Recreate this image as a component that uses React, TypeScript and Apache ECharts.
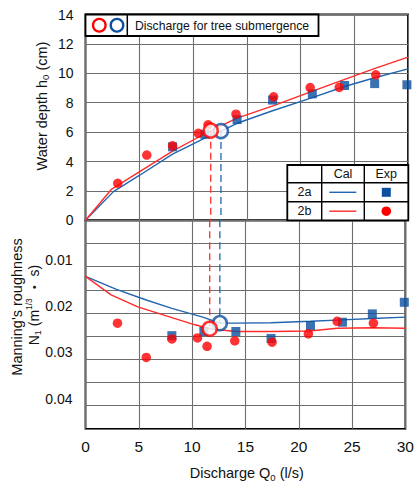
import React, { useEffect, useRef } from "react";
import * as echarts from "echarts";

// ---- Data ----
// Calculated (Cal) water depth h0 (cm) vs discharge Q0 (l/s)
const calQ2aTop = [0, 2.6, 5, 8.1, 11, 12.6, 14.1, 17.4, 21.1, 24.1, 26.9, 30];
const calH2a = [0, 1.95, 3.05, 4.5, 5.55, 6.07, 6.6, 7.45, 8.35, 9.1, 9.7, 10.3];
const calQ2bTop = [0, 2.4, 5, 8.1, 10.5, 11.65, 14.1, 17.5, 21, 23.6, 27, 30];
const calH2b = [0, 2.1, 3.3, 4.7, 5.65, 6.1, 6.95, 7.8, 8.75, 9.45, 10.35, 11.1];

// Calculated Manning's roughness N1
const calQ2aBot = [0, 2.9, 5.7, 8.1, 11, 12.6, 14.1, 17.4, 21.1, 24.1, 26.9, 30];
const calN2a = [0.0121, 0.0149, 0.0172, 0.019, 0.0209, 0.0222, 0.0222, 0.0221, 0.0218, 0.0215, 0.0212, 0.0209];
const calQ2bBot = [0, 2.4, 4.9, 8.1, 10.2, 11.65, 14.1, 17.5, 21, 23.6, 27, 30];
const calN2b = [0.0121, 0.0161, 0.0187, 0.021, 0.0225, 0.0234, 0.024, 0.024, 0.0239, 0.0233, 0.0232, 0.0233];

// Experimental (Exp)
const expQ2a = [8.1, 11.1, 14.1, 17.4, 21.1, 24.1, 26.9, 29.9];
const expH2a = [5.0, 5.85, 6.85, 8.18, 8.6, 9.17, 9.3, 9.22];
const expN2a = [0.0249, 0.024, 0.024, 0.0255, 0.0227, 0.022, 0.0202, 0.0177];
const expQ2b = [3.0, 5.7, 8.1, 10.5, 11.4, 14.0, 17.5, 20.9, 23.6, 27.0];
const expH2b = [2.52, 4.44, 5.07, 5.92, 6.5, 7.22, 8.4, 9.03, 9.05, 9.9];
const expN2b = [0.0222, 0.0296, 0.0256, 0.0254, 0.0272, 0.026, 0.0263, 0.0245, 0.0218, 0.0222];

// Discharge for tree submergence [2a, 2b]
const subQ = [12.6, 11.65];
const subH = [6.07, 6.1];
const subN = [0.0222, 0.0234];

// Axis ticks
const xTicks = [0, 5, 10, 15, 20, 25, 30];
const hTicks = [0, 2, 4, 6, 8, 10, 12, 14];
const nTickLabels = ["0.01", "0.02", "0.03", "0.04"];

const BLUE = "#0b4f9e";
const BLUE_LINE = "#2365b0";
const RED = "#ff0000";
const RED_LINE = "#ff2b2b";
const FONT = "'Liberation Sans', Arial, 'Noto Sans CJK JP', sans-serif";
const TXT = "#111";

const zip = (a: number[], b: number[]) => a.map((v, i) => [v, b[i]]);

export default function App() {
  const ref = useRef<HTMLDivElement>(null);
  useEffect(() => {
    const chart = echarts.init(ref.current!, null, { renderer: "svg" });
    const gridCommon = {
      left: 85.5,
      width: 322.5,
      show: true,
      borderColor: "#000",
      borderWidth: 1.8,
      backgroundColor: "transparent",
    };
    const split = { show: true, lineStyle: { color: "#6e6e6e", width: 1.1 } };
    const dash = (color: string) => ({ color, width: 1.3, type: [7, 4] as any });
    const option: any = {
      animation: false,
      backgroundColor: "#fff",
      grid: [
        { ...gridCommon, top: 14.5, height: 205.8 },
        { ...gridCommon, top: 220.3, height: 208.5 },
      ],
      xAxis: [
        {
          gridIndex: 0, type: "value", min: xTicks[0], max: xTicks[xTicks.length - 1], interval: 5,
          axisLabel: { show: false }, axisTick: { show: false }, axisLine: { show: false }, splitLine: split,
        },
        {
          gridIndex: 1, type: "value", min: xTicks[0], max: xTicks[xTicks.length - 1], interval: 5,
          axisLabel: { fontSize: 15.5, color: TXT, margin: 10, fontFamily: FONT },
          axisTick: { show: false }, axisLine: { show: false }, splitLine: split,
        },
      ],
      yAxis: [
        {
          gridIndex: 0, type: "value", min: hTicks[0], max: hTicks[hTicks.length - 1], interval: 2,
          axisLabel: { fontSize: 14, color: TXT, margin: 12, fontFamily: FONT },
          axisTick: { show: false }, axisLine: { show: false }, splitLine: split,
        },
        {
          gridIndex: 1, type: "value", min: 0, max: 0.045, interval: 0.005, inverse: true,
          axisLabel: {
            fontSize: 14, color: TXT, margin: 13, fontFamily: FONT, verticalAlign: "bottom",
            formatter: (v: number) => {
              const k = Math.round(v * 1000);
              if (k > 0 && k % 10 === 0) return nTickLabels[k / 10 - 1] ?? "";
              return "";
            },
          },
          axisTick: { show: false }, axisLine: { show: false }, splitLine: split,
        },
      ],
      series: [
        // dashed verticals
        { type: "line", xAxisIndex: 0, yAxisIndex: 0, data: [[subQ[1], subH[1]], [subQ[1], 0]], symbol: "none", lineStyle: dash(RED_LINE), z: 1 },
        { type: "line", xAxisIndex: 1, yAxisIndex: 1, data: [[subQ[1], 0], [subQ[1], subN[1]]], symbol: "none", lineStyle: dash(RED_LINE), z: 1 },
        { type: "line", xAxisIndex: 0, yAxisIndex: 0, data: [[subQ[0], subH[0]], [subQ[0], 0]], symbol: "none", lineStyle: dash(BLUE_LINE), z: 1 },
        { type: "line", xAxisIndex: 1, yAxisIndex: 1, data: [[subQ[0], 0], [subQ[0], subN[0]]], symbol: "none", lineStyle: dash(BLUE_LINE), z: 1 },
        // calculated lines
        { type: "line", xAxisIndex: 0, yAxisIndex: 0, data: zip(calQ2aTop, calH2a), symbol: "none", lineStyle: { color: BLUE_LINE, width: 1.4 }, z: 2 },
        { type: "line", xAxisIndex: 0, yAxisIndex: 0, data: zip(calQ2bTop, calH2b), symbol: "none", lineStyle: { color: RED_LINE, width: 1.4 }, z: 2 },
        { type: "line", xAxisIndex: 1, yAxisIndex: 1, data: zip(calQ2aBot, calN2a), symbol: "none", lineStyle: { color: BLUE_LINE, width: 1.4 }, z: 2 },
        { type: "line", xAxisIndex: 1, yAxisIndex: 1, data: zip(calQ2bBot, calN2b), symbol: "none", lineStyle: { color: RED_LINE, width: 1.4 }, z: 2 },
        // experimental
        { type: "scatter", xAxisIndex: 0, yAxisIndex: 0, data: zip(expQ2a, expH2a), symbol: "rect", symbolSize: 9, itemStyle: { color: BLUE }, z: 3 },
        { type: "scatter", xAxisIndex: 1, yAxisIndex: 1, data: zip(expQ2a, expN2a), symbol: "rect", symbolSize: 9, itemStyle: { color: BLUE }, z: 3 },
        { type: "scatter", xAxisIndex: 0, yAxisIndex: 0, data: zip(expQ2b, expH2b), symbol: "circle", symbolSize: 9.5, itemStyle: { color: RED }, z: 4 },
        { type: "scatter", xAxisIndex: 1, yAxisIndex: 1, data: zip(expQ2b, expN2b), symbol: "circle", symbolSize: 9.5, itemStyle: { color: RED }, z: 4 },
        // submergence open circles
        { type: "scatter", xAxisIndex: 0, yAxisIndex: 0, data: [[subQ[0], subH[0]]], symbol: "circle", symbolSize: 14, itemStyle: { color: "#fff", borderColor: BLUE, borderWidth: 2.5 }, z: 6 },
        { type: "scatter", xAxisIndex: 1, yAxisIndex: 1, data: [[subQ[0], subN[0]]], symbol: "circle", symbolSize: 14, itemStyle: { color: "#fff", borderColor: BLUE, borderWidth: 2.5 }, z: 6 },
        { type: "scatter", xAxisIndex: 0, yAxisIndex: 0, data: [[subQ[1], subH[1]]], symbol: "circle", symbolSize: 14, itemStyle: { color: "#fff", borderColor: RED, borderWidth: 2.5 }, z: 7 },
        { type: "scatter", xAxisIndex: 1, yAxisIndex: 1, data: [[subQ[1], subN[1]]], symbol: "circle", symbolSize: 14, itemStyle: { color: "#fff", borderColor: RED, borderWidth: 2.5 }, z: 7 },
      ],
      graphic: [
        // top legend box
        { type: "rect", z: 100, shape: { x: 85.5, y: 14.5, width: 233, height: 21.5 }, style: { fill: "#fff", stroke: "#000", lineWidth: 1.8 } },
        { type: "line", z: 101, shape: { x1: 127.3, y1: 14.5, x2: 127.3, y2: 36 }, style: { stroke: "#000", lineWidth: 1.5 } },
        { type: "circle", z: 101, shape: { cx: 99.3, cy: 25.3, r: 6.3 }, style: { fill: "#fff", stroke: RED, lineWidth: 2.3 } },
        { type: "circle", z: 101, shape: { cx: 117, cy: 25.3, r: 6.3 }, style: { fill: "#fff", stroke: BLUE, lineWidth: 2.3 } },
        { type: "text", z: 101, x: 135, y: 25.5, style: { text: "Discharge for tree submergence", fontSize: 12.2, fontFamily: FONT, fill: TXT, verticalAlign: "middle", align: "left" } },
        // table legend
        { type: "rect", z: 100, shape: { x: 287.3, y: 165, width: 121, height: 55.3 }, style: { fill: "#fff", stroke: "#000", lineWidth: 1.8 } },
        { type: "line", z: 101, shape: { x1: 287.3, y1: 182.7, x2: 408.3, y2: 182.7 }, style: { stroke: "#000", lineWidth: 1.4 } },
        { type: "line", z: 101, shape: { x1: 287.3, y1: 201.7, x2: 408.3, y2: 201.7 }, style: { stroke: "#000", lineWidth: 1.4 } },
        { type: "line", z: 101, shape: { x1: 321.7, y1: 165, x2: 321.7, y2: 220.3 }, style: { stroke: "#000", lineWidth: 1.4 } },
        { type: "line", z: 101, shape: { x1: 364.3, y1: 165, x2: 364.3, y2: 220.3 }, style: { stroke: "#000", lineWidth: 1.4 } },
        { type: "text", z: 101, x: 343, y: 174.3, style: { text: "Cal", fontSize: 12.5, fontFamily: FONT, fill: TXT, align: "center", verticalAlign: "middle" } },
        { type: "text", z: 101, x: 386.3, y: 174.3, style: { text: "Exp", fontSize: 12.5, fontFamily: FONT, fill: TXT, align: "center", verticalAlign: "middle" } },
        { type: "text", z: 101, x: 304.5, y: 192.4, style: { text: "2a", fontSize: 12.5, fontFamily: FONT, fill: TXT, align: "center", verticalAlign: "middle" } },
        { type: "text", z: 101, x: 304.5, y: 211.2, style: { text: "2b", fontSize: 12.5, fontFamily: FONT, fill: TXT, align: "center", verticalAlign: "middle" } },
        { type: "line", z: 101, shape: { x1: 329.3, y1: 192.3, x2: 356.3, y2: 192.3 }, style: { stroke: BLUE_LINE, lineWidth: 1.4 } },
        { type: "line", z: 101, shape: { x1: 329.3, y1: 211.2, x2: 356.3, y2: 211.2 }, style: { stroke: RED_LINE, lineWidth: 1.4 } },
        { type: "rect", z: 101, shape: { x: 381.8, y: 187.8, width: 9, height: 9 }, style: { fill: BLUE } },
        { type: "circle", z: 101, shape: { cx: 386.3, cy: 211.2, r: 4.8 }, style: { fill: RED } },
        // axis titles
        {
          type: "text", z: 101, x: 41.5, y: 106, rotation: Math.PI / 2,
          style: {
            text: "{a|Water depth h}{s|0}{a| (cm)}", align: "center", verticalAlign: "middle", fill: TXT,
            rich: { a: { fontSize: 14.5, fontFamily: FONT, fill: TXT, lineHeight: 18 }, s: { fontSize: 9.5, fontFamily: FONT, fill: TXT, lineHeight: 13, verticalAlign: "bottom" } },
          },
        },
        {
          type: "text", z: 101, x: 17, y: 307, rotation: Math.PI / 2,
          style: { text: "Manning's roughness", fontSize: 14.5, fontFamily: FONT, fill: TXT, align: "center", verticalAlign: "middle" },
        },
        {
          type: "text", z: 101, x: 33.5, y: 305, rotation: Math.PI / 2,
          style: {
            text: "{a|N}{s|1}{a| (m}{p|1/3}{a| ・ s)}", align: "center", verticalAlign: "middle", fill: TXT,
            rich: {
              a: { fontSize: 14, fontFamily: FONT, fill: TXT, lineHeight: 18 },
              s: { fontSize: 9, fontFamily: FONT, fill: TXT, lineHeight: 13, verticalAlign: "bottom" },
              p: { fontSize: 8.5, fontFamily: FONT, fill: TXT, lineHeight: 14, verticalAlign: "top" },
            },
          },
        },
        {
          type: "text", z: 101, x: 246.8, y: 473.3,
          style: {
            text: "{a|Discharge Q}{s|0}{a| (l/s)}", align: "center", verticalAlign: "middle", fill: TXT,
            rich: { a: { fontSize: 14.5, fontFamily: FONT, fill: TXT, lineHeight: 18 }, s: { fontSize: 9.5, fontFamily: FONT, fill: TXT, lineHeight: 13, verticalAlign: "bottom" } },
          },
        },
      ],
    };
    chart.setOption(option);
    return () => chart.dispose();
  }, []);
  return (
    <div
      ref={ref}
      style={{ position: "fixed", left: 0, top: 0, width: 417, height: 484, background: "#fff" }}
    />
  );
}
